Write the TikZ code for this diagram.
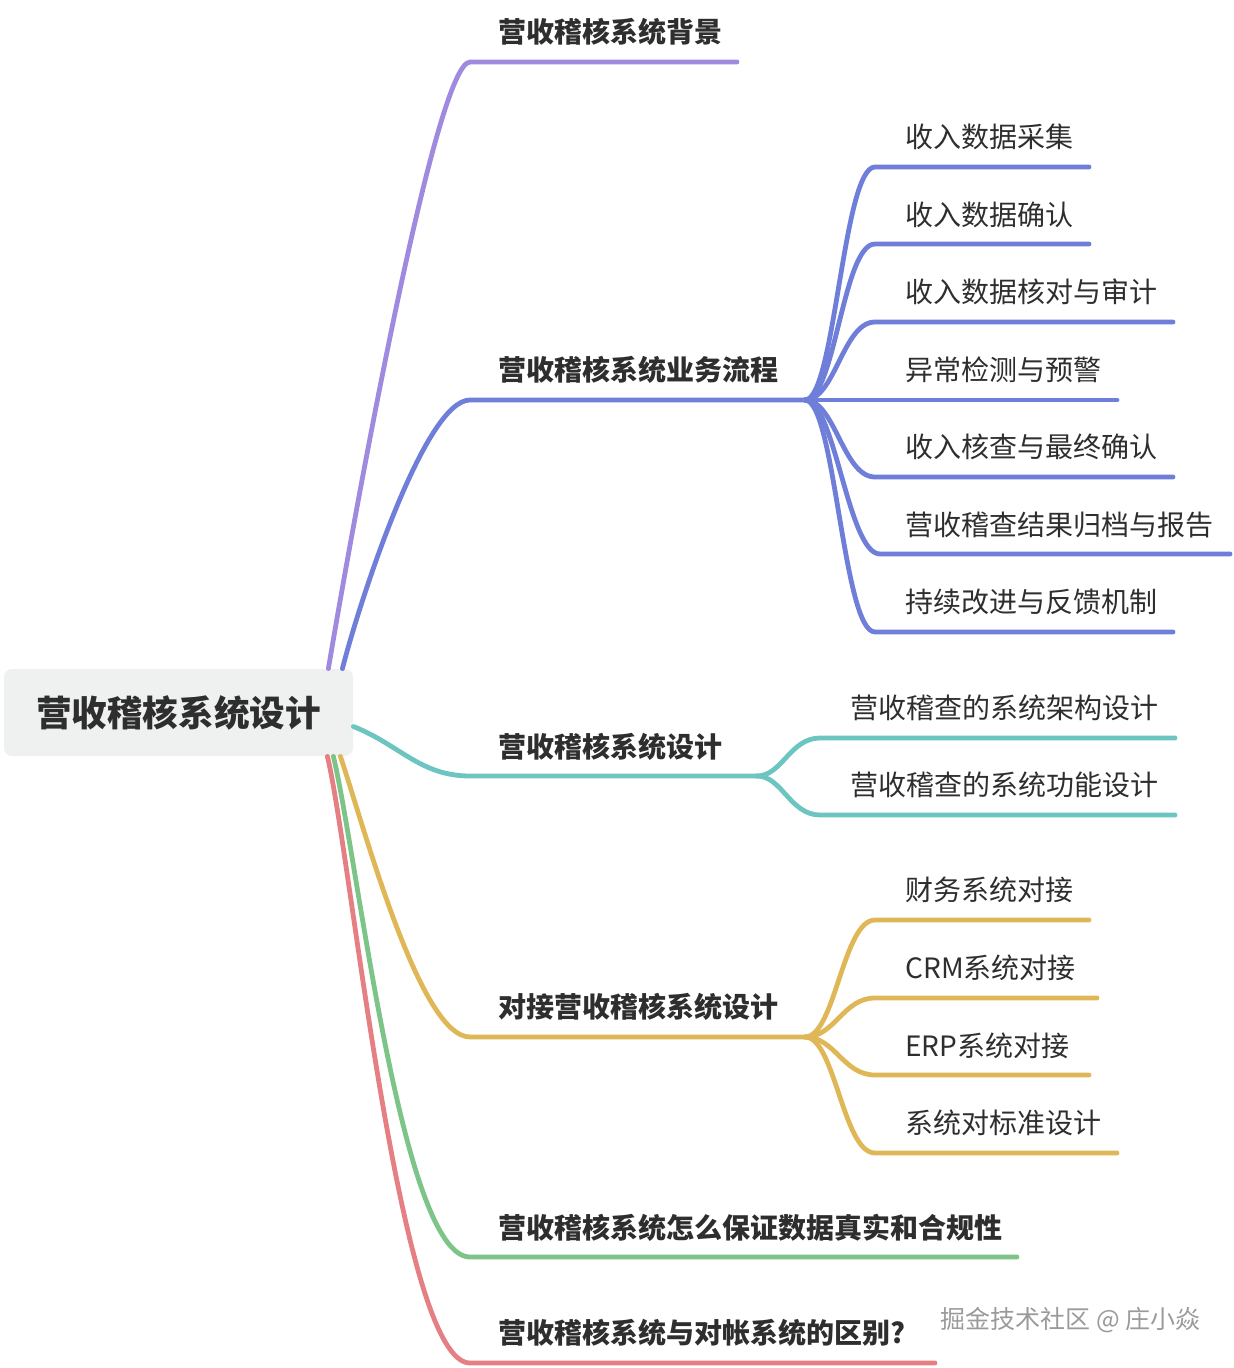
\documentclass[tikz,border=0pt]{standalone}
\usepackage{fontspec}
\setmainfont{Noto Sans CJK SC}
\definecolor{cpurple}{HTML}{A08ADF}
\definecolor{cblue}{HTML}{6F7ED8}
\definecolor{cteal}{HTML}{6CC5C1}
\definecolor{cyellow}{HTML}{E0B757}
\definecolor{cgreen}{HTML}{7CC487}
\definecolor{cred}{HTML}{E57F83}
\definecolor{txt}{HTML}{2E2E2E}
\definecolor{rootfill}{HTML}{EFF0F0}
\definecolor{wm}{HTML}{9A9A9A}
\begin{document}
\begin{tikzpicture}[x=0.5pt,y=-0.5pt,
  br/.style={line width=2.4pt, line cap=round, line join=round},
  tone/.style={anchor=west, inner sep=0pt, font=\fontsize{14pt}{16pt}\selectfont\bfseries, text=txt},
  ttwo/.style={anchor=west, inner sep=0pt, font=\fontsize{14pt}{16pt}\selectfont, text=txt}]
\useasboundingbox (0,0) rectangle (1234,1368);

% root
\node[fill=rootfill, rounded corners=4pt, minimum width=174.5pt, minimum height=43.5pt,
      inner sep=0pt, font=\fontsize{17.8pt}{20pt}\selectfont\bfseries, text=txt]
      (root) at (178.5,712.5) {营收稽核系统设计};

\coordinate (s1) at ([xshift=-12.5pt]root.north east);
\coordinate (s2) at ([xshift=-5.5pt]root.north east);
\coordinate (s3) at ([yshift=-7pt]root.east);
\coordinate (s4) at ([xshift=-6.5pt]root.south east);
\coordinate (s5) at ([xshift=-10pt]root.south east);
\coordinate (s6) at ([xshift=-13pt]root.south east);

% level-1 corner and end points
\coordinate (k1) at (470,62);   \coordinate (e1) at (737,62);
\coordinate (k2) at (470,400);  \coordinate (e2) at (805,400);
\coordinate (k3) at (470,776);  \coordinate (e3) at (757,776);
\coordinate (k4) at (470,1037); \coordinate (e4) at (805,1037);
\coordinate (k5) at (470,1257); \coordinate (e5) at (1017,1257);
\coordinate (k6) at (470,1363); \coordinate (e6) at (935,1363);

% level-1 texts
\node[tone] (n1) at (498,32)   {营收稽核系统背景};
\node[tone] (n2) at (498,370)  {营收稽核系统业务流程};
\node[tone] (n3) at (498,747)  {营收稽核系统设计};
\node[tone] (n4) at (498,1007) {对接营收稽核系统设计};
\node[tone] (n5) at (498,1228) {营收稽核系统怎么保证数据真实和合规性};
\node[tone] (n6) at (498,1333) {营收稽核系统与对帐系统的区别?};

% level-1 branches
\draw[br,cpurple] (s1) .. controls (350,540) and (435,62) .. (k1) -- (e1);
\draw[br,cblue]   (s2) .. controls (360,600) and (425,400) .. (k2) -- (e2);
\draw[br,cteal]   (s3) .. controls (400,745) and (420,776) .. (k3) -- (e3);
\draw[br,cyellow] (s4) .. controls (365,830) and (420,1037) .. (k4) -- (e4);
\draw[br,cgreen]  (s5) .. controls (358,860) and (402,1257) .. (k5) -- (e5);
\draw[br,cred]    (s6) .. controls (352,860) and (400,1363) .. (k6) -- (e6);

% blue children
\node[ttwo] (m1) at (905,137) {收入数据采集};
\node[ttwo] (m2) at (905,215) {收入数据确认};
\node[ttwo] (m3) at (905,292) {收入数据核对与审计};
\node[ttwo] (m4) at (905,370) {异常检测与预警};
\node[ttwo] (m5) at (905,447) {收入核查与最终确认};
\node[ttwo] (m6) at (905,525) {营收稽查结果归档与报告};
\node[ttwo] (m7) at (905,602) {持续改进与反馈机制};
\coordinate (k21) at (875,167); \coordinate (f21) at (1089,167);
\coordinate (k22) at (875,244); \coordinate (f22) at (1089,244);
\coordinate (k23) at (875,322); \coordinate (f23) at (1173,322);
\coordinate (f24) at (1117,400);
\coordinate (k25) at (875,477); \coordinate (f25) at (1173,477);
\coordinate (k26) at (880,554); \coordinate (f26) at (1230,554);
\coordinate (k27) at (875,632); \coordinate (f27) at (1173,632);
\foreach \i in {21,22,23,25,26,27}{
  \draw[br,cblue] (e2) .. controls +(30,0) and +(-32,0) .. (k\i) -- (f\i);
}
\draw[br,cblue] (e2) -- (f24);

% teal children
\node[ttwo] (p1) at (850,708) {营收稽查的系统架构设计};
\node[ttwo] (p2) at (850,785) {营收稽查的系统功能设计};
\coordinate (k31) at (820,738); \coordinate (f31) at (1175,738);
\coordinate (k32) at (820,815); \coordinate (f32) at (1175,815);
\foreach \i in {31,32}{
  \draw[br,cteal] (e3) .. controls +(25,0) and +(-30,0) .. (k\i) -- (f\i);
}

% yellow children
\node[ttwo] (q1) at (905,890)  {财务系统对接};
\node[ttwo] (q2) at (905,968)  {CRM系统对接};
\node[ttwo] (q3) at (905,1046) {ERP系统对接};
\node[ttwo] (q4) at (905,1123) {系统对标准设计};
\coordinate (k41) at (875,920);  \coordinate (f41) at (1089,920);
\coordinate (k42) at (875,998);  \coordinate (f42) at (1097,998);
\coordinate (k43) at (875,1075); \coordinate (f43) at (1089,1075);
\coordinate (k44) at (875,1153); \coordinate (f44) at (1117,1153);
\foreach \i in {41,42,43,44}{
  \draw[br,cyellow] (e4) .. controls +(30,0) and +(-32,0) .. (k\i) -- (f\i);
}

% watermark
\node[anchor=west, inner sep=0pt, font=\fontsize{12.5pt}{14pt}\selectfont, text=wm]
  (wmk) at (940,1320) {掘金技术社区 @ 庄小焱};
\end{tikzpicture}
\end{document}
